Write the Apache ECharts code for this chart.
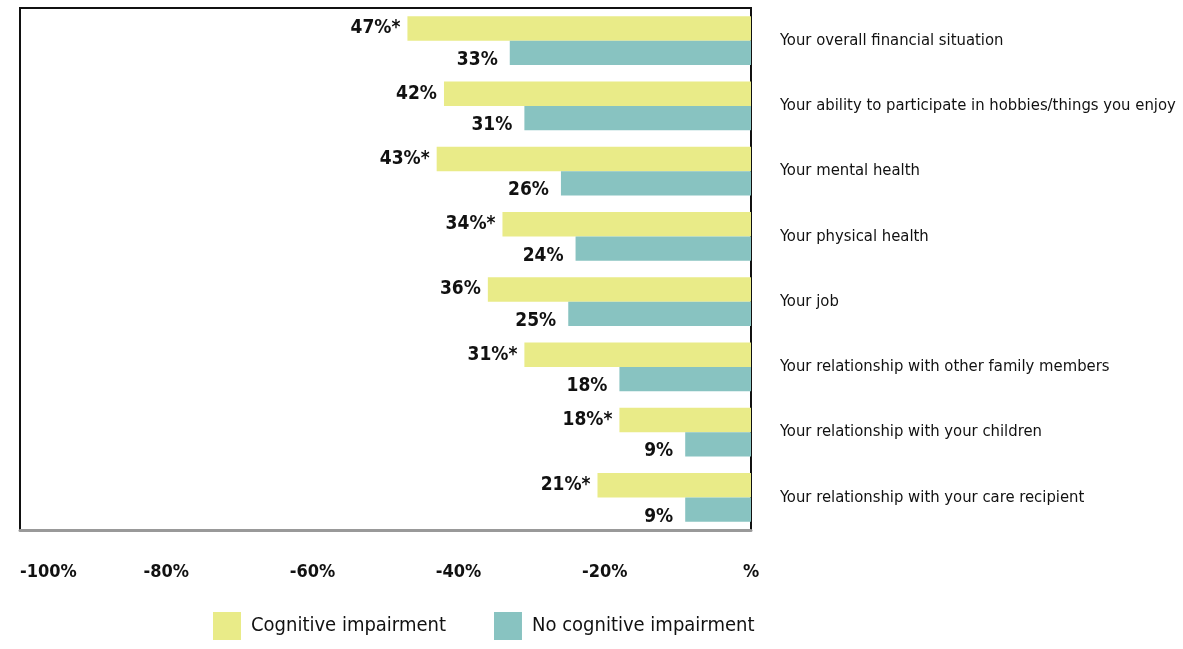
<!DOCTYPE html>
<html lang="en">
<head>
    <meta charset="UTF-8">
    <title>Impact of caregiving</title>
    <style>
        html, body { margin: 0; padding: 0; background: #fff; }
        #chart { width: 1183px; height: 649px; }
    </style>
</head>
<body>
<div id="chart"></div>
<script src="https://cdn.jsdelivr.net/npm/echarts@6/dist/echarts.min.js"></script>
<script>
    var categories = [
        'Your overall financial situation',
        'Your ability to participate in hobbies/things you enjoy',
        'Your mental health',
        'Your physical health',
        'Your job',
        'Your relationship with other family members',
        'Your relationship with your children',
        'Your relationship with your care recipient'
    ]
    var cognitive = [47, 42, 43, 34, 36, 31, 18, 21]
    var cognitiveSig = [true, false, true, true, false, true, true, true]
    var noCognitive = [33, 31, 26, 24, 25, 18, 9, 9]
    var xTicks = [-100, -80, -60, -40, -20, 0]

    var narrow = "'Liberation Sans Narrow', 'DejaVu Sans Condensed', sans-serif"
    var yellow = '#e9eb88'
    var teal = '#88c3c1'

    var chart = echarts.init(document.getElementById('chart'))
    chart.setOption({
        animation: false,
        textStyle: { fontFamily: narrow },
        legend: {
            bottom: 4,
            left: 208,
            itemWidth: 28,
            itemHeight: 28,
            itemGap: 48,
            icon: 'rect',
            textStyle: { fontSize: 20, color: '#111', fontFamily: narrow, padding: [0, 0, 0, 5] },
            data: ['Cognitive impairment', 'No cognitive impairment']
        },
        grid: {
            left: 20,
            right: 432,
            top: 8,
            bottom: 119,
            show: true,
            borderColor: '#111',
            borderWidth: 2,
            containLabel: false,
            outerBoundsMode: 'none'
        },
        xAxis: {
            type: 'value',
            min: xTicks[0],
            max: xTicks[xTicks.length - 1],
            interval: 20,
            axisLine: { show: true, lineStyle: { color: '#999', width: 3 } },
            axisTick: { show: false },
            splitLine: { show: false },
            axisLabel: {
                margin: 33,
                fontSize: 18,
                fontWeight: 'bold',
                color: '#111',
                fontFamily: narrow,
                alignMinLabel: 'left',
                formatter: function (v) { return v === 0 ? '%' : v + '%' }
            }
        },
        yAxis: {
            type: 'category',
            data: categories,
            inverse: true,
            position: 'right',
            axisLine: { show: false },
            axisTick: { show: false },
            axisLabel: {
                margin: 29,
                fontSize: 16.5,
                color: '#111',
                fontFamily: narrow,
                padding: [7, 0, 0, 0]
            }
        },
        series: [
            {
                name: 'Cognitive impairment',
                type: 'bar',
                data: cognitive.map(function (v) { return -v }),
                itemStyle: { color: yellow },
                barGap: '0%',
                barCategoryGap: '25%',
                label: {
                    show: true,
                    position: 'left',
                    distance: 7,
                    fontSize: 19,
                    fontWeight: 'bold',
                    color: '#111',
                    fontFamily: narrow,
                    formatter: function (p) {
                        return cognitive[p.dataIndex] + '%' + (cognitiveSig[p.dataIndex] ? '*' : '')
                    }
                }
            },
            {
                name: 'No cognitive impairment',
                type: 'bar',
                data: noCognitive.map(function (v) { return -v }),
                itemStyle: { color: teal },
                label: {
                    show: true,
                    position: 'left',
                    distance: 12,
                    offset: [0, 7],
                    fontSize: 19,
                    fontWeight: 'bold',
                    color: '#111',
                    fontFamily: narrow,
                    formatter: function (p) { return noCognitive[p.dataIndex] + '%' }
                }
            }
        ]
    })
</script>
</body>
</html>
